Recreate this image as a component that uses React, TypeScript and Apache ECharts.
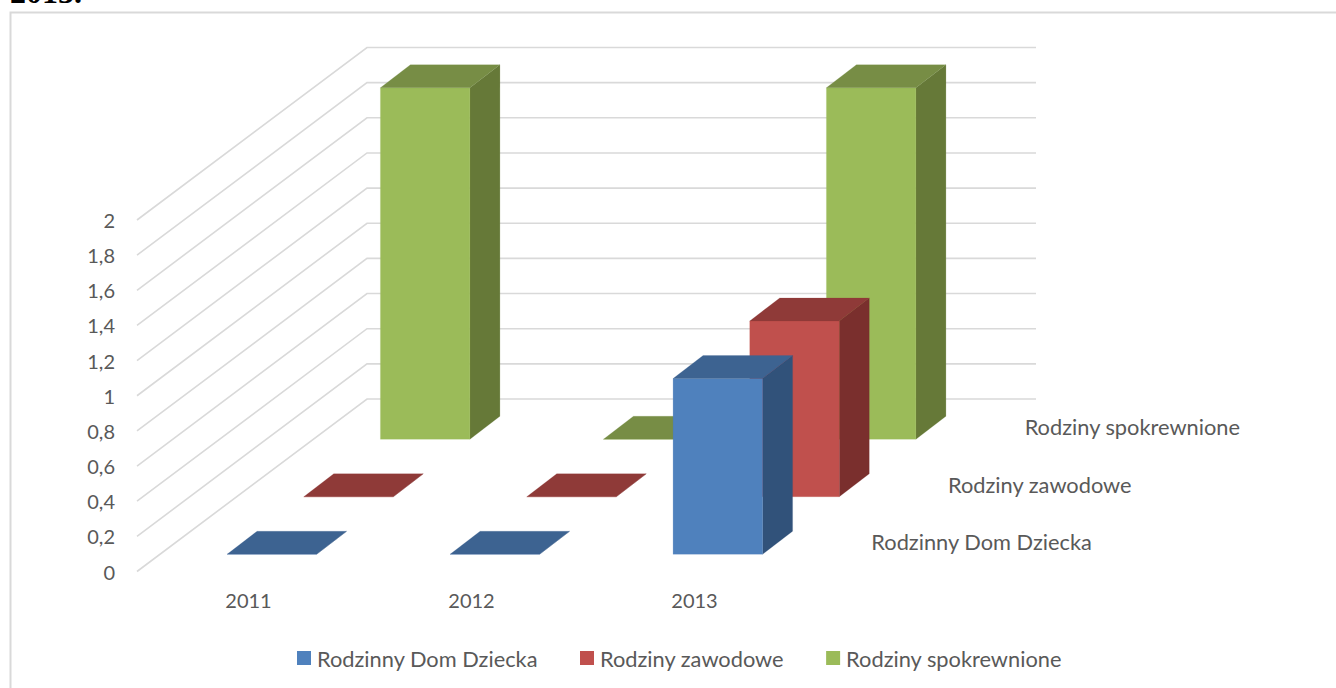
import React, { useEffect, useRef } from "react";
import * as echarts from "echarts";

const categories = ["2011", "2012", "2013"];
const rowNames = ["Rodzinny Dom Dziecka", "Rodziny zawodowe", "Rodziny spokrewnione"];
const rodzinnyDomDziecka = [0, 0, 1];
const rodzinyZawodowe = [0, 0, 1];
const rodzinySpokrewnione = [2, 0, 2];
const valueTicks = [0, 0.2, 0.4, 0.6, 0.8, 1, 1.2, 1.4, 1.6, 1.8, 2];

const FONT = "Lato";
const TEXT = "#595959";
const GRID = "#D9D9D9";
const WALL_DX = 230;
const WALL_DY = -172.5;
const BAR_DX = 30;
const BAR_DY = -23;
const BAR_RATIO = 0.4013;

const palette = [
  { front: "#4F81BD", top: "#3D6391", side: "#31527A" },
  { front: "#C0504D", top: "#8F3A38", side: "#7A2F2D" },
  { front: "#9BBB59", top: "#778D45", side: "#667938" },
];

const renderBar = (row: number) => (_: any, api: any) => {
  const cat = api.value(0);
  const base = api.coord([cat, 0]);
  const tip = api.coord([cat, api.value(1)]);
  const band = api.size([1, 0])[0];
  const w = band * BAR_RATIO;
  const n = rowNames.length;
  const ox = (WALL_DX * (row + 0.5)) / n - BAR_DX / 2;
  const oy = (WALL_DY * (row + 0.5)) / n - BAR_DY / 2;
  const l = base[0] - w / 2 + ox;
  const r = l + w;
  const b = base[1] + oy;
  const t = tip[1] + oy;
  const c = palette[row];
  const poly = (points: number[][], fill: string) => ({
    type: "polygon",
    shape: { points },
    style: { fill, stroke: fill, lineWidth: 0.2 },
  });
  return {
    type: "group",
    children: [
      poly([[r, b], [r + BAR_DX, b + BAR_DY], [r + BAR_DX, t + BAR_DY], [r, t]], c.side),
      poly([[l, b], [r, b], [r, t], [l, t]], c.front),
      poly([[l, t], [r, t], [r + BAR_DX, t + BAR_DY], [l + BAR_DX, t + BAR_DY]], c.top),
    ],
  };
};

const renderWall = (params: any, api: any) => {
  const y = api.coord([0, api.value(0)])[1];
  const x0 = params.coordSys.x;
  const x1 = x0 + params.coordSys.width;
  return {
    type: "polyline",
    shape: {
      points: [
        [x0, y],
        [x0 + WALL_DX, y + WALL_DY],
        [x1 + WALL_DX, y + WALL_DY],
      ],
    },
    style: { fill: "none", stroke: GRID, lineWidth: 1.6 },
  };
};

const renderRowLabel = (params: any, api: any) => {
  const row = api.value(0);
  const n = rowNames.length;
  const y0 = api.coord([0, 0])[1];
  const x1 = params.coordSys.x + params.coordSys.width;
  return {
    type: "text",
    x: x1 + (WALL_DX * (row + 0.5)) / n + 27,
    y: y0 + (WALL_DY * (row + 0.5)) / n - 1,
    style: {
      text: rowNames[row],
      fill: TEXT,
      font: `21.8px ${FONT}`,
      textAlign: "left",
      textVerticalAlign: "middle",
    },
  };
};

const barSeries = (row: number, values: number[]) => ({
  type: "custom",
  name: rowNames[row],
  renderItem: renderBar(row),
  itemStyle: { color: palette[row].front },
  encode: { x: 0, y: 1 },
  data: values.map((v, i) => [i, v]),
  z: 5 + (rowNames.length - row),
});

export default function App() {
  const ref = useRef<HTMLDivElement>(null);
  useEffect(() => {
    const chart = echarts.init(ref.current!, undefined, { renderer: "svg" });
    chart.setOption({
      animation: false,
      backgroundColor: "#fff",
      textStyle: { fontFamily: FONT },
      grid: { left: 137, top: 220, width: 669, height: 351.5 },
      legend: {
        left: 292,
        top: 642,
        itemWidth: 14,
        itemHeight: 14,
        itemGap: 42,
        icon: "rect",
        data: rowNames,
        textStyle: { fontFamily: FONT, fontSize: 21.8, color: TEXT, padding: [0, 0, 0, 1] },
      },
      xAxis: {
        type: "category",
        data: categories,
        axisLine: { show: false },
        axisTick: { show: false },
        splitLine: { show: false },
        axisLabel: { color: TEXT, fontFamily: FONT, fontSize: 20, margin: 18 },
      },
      yAxis: {
        type: "value",
        min: 0,
        max: 2,
        interval: 0.2,
        axisLine: { show: false },
        axisTick: { show: false },
        splitLine: { show: false },
        axisLabel: {
          color: TEXT,
          fontFamily: FONT,
          fontSize: 20,
          margin: 22,
          formatter: (v: number) => String(Number(v.toFixed(1))).replace(".", ","),
        },
      },
      graphic: [
        {
          type: "rect",
          shape: { x: 10.5, y: 12.5, width: 1340, height: 700 },
          style: { fill: "none", stroke: GRID, lineWidth: 2 },
          silent: true,
          z: 0,
        },
        {
          type: "text",
          x: 10,
          y: -24,
          style: { text: "2013.", fill: "#000", font: "bold 32px 'Liberation Serif'" },
          silent: true,
          z: 0,
        },
      ],
      series: [
        {
          type: "custom",
          name: "wall",
          renderItem: renderWall,
          encode: { y: 0 },
          data: valueTicks.map((v) => [v]),
          silent: true,
          z: 1,
        },
        barSeries(0, rodzinnyDomDziecka),
        barSeries(1, rodzinyZawodowe),
        barSeries(2, rodzinySpokrewnione),
        {
          type: "custom",
          name: "rows",
          renderItem: renderRowLabel,
          data: rowNames.map((_, i) => [i]),
          encode: { x: -1, y: -1 },
          silent: true,
          z: 2,
        },
      ],
    });
    return () => chart.dispose();
  }, []);
  return <div ref={ref} style={{ position: "absolute", left: 0, top: 0, width: 1336, height: 688 }} />;
}
